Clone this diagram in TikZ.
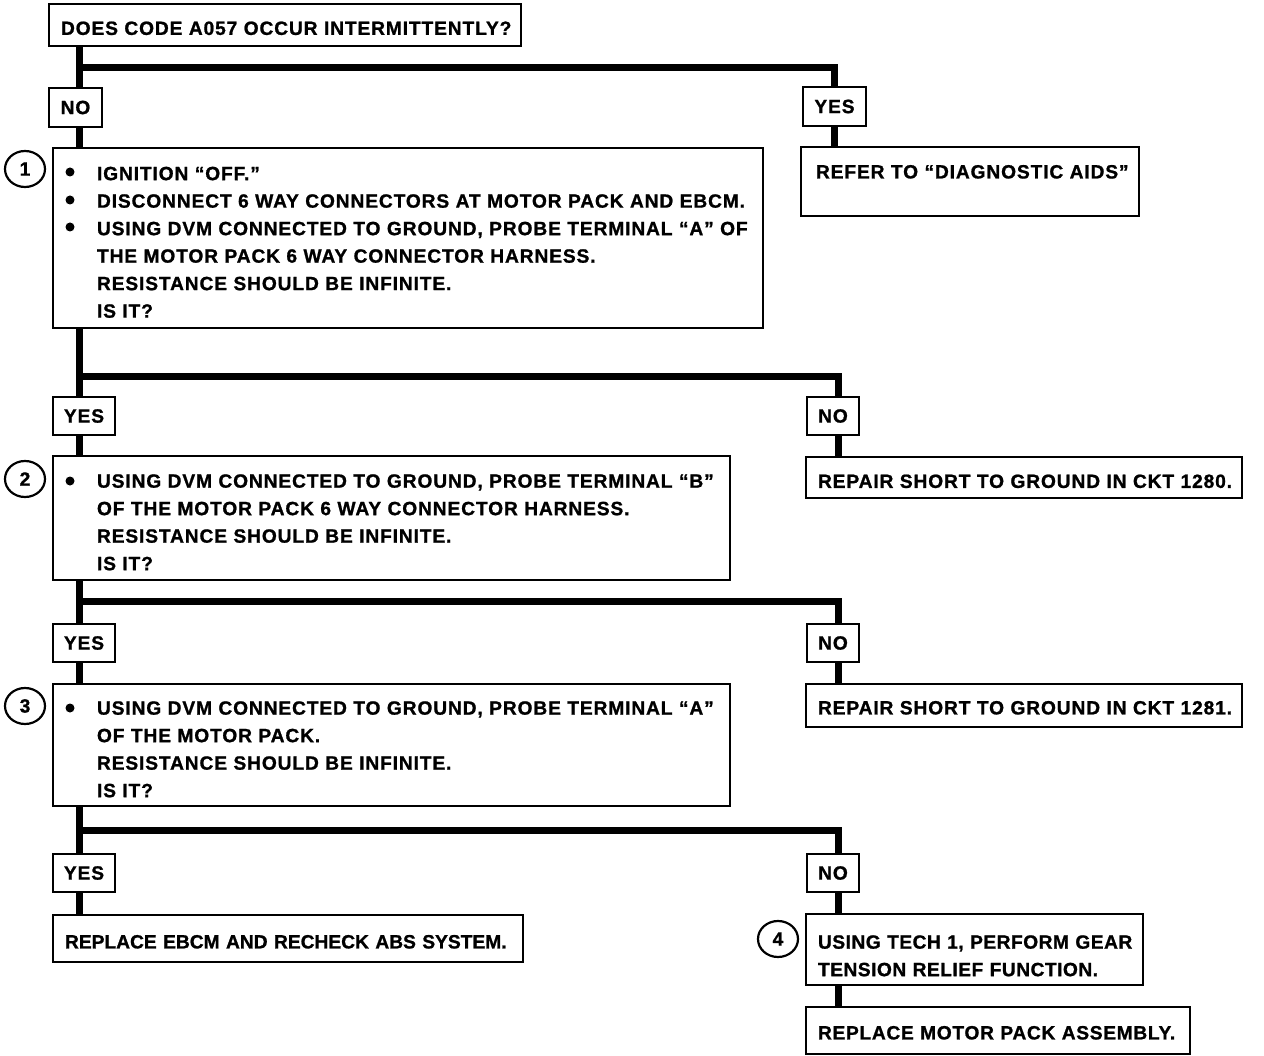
\documentclass[tikz,border=0pt]{standalone}
\usepackage{fontspec}
\setmainfont{Liberation Sans}[LetterSpace=4.5, BoldFeatures={FakeBold=1}]
\usetikzlibrary{shapes.geometric}
\newcommand\tline[1]{\mbox{\hspace*{31pt}#1}}
\newcommand\up[1]{\rule{0pt}{#1pt}}
\tikzset{
  box/.style={draw, line width=2.7pt, fill=white, outer sep=0pt, inner ysep=0pt,
    anchor=north west, align=left, font=\fontsize{19.2}{27.5}\selectfont\bfseries},
  tag/.style={draw, line width=2.7pt, fill=white, outer sep=0pt, inner sep=0pt,
    anchor=north west, minimum height=38pt, font=\fontsize{19.2}{20}\selectfont\bfseries},
  conn/.style={line width=7pt, line join=miter},
  num/.style={draw, ellipse, line width=2.2pt, minimum width=40pt, minimum height=36pt,
    inner sep=0pt, font=\fontsize{19.2}{20}\selectfont\bfseries},
  dot/.style={fill=black}
}
\begin{document}
\begin{tikzpicture}[x=1pt,y=-1pt]
\fill[white] (0,0) rectangle (1264,1056);
\useasboundingbox (0,0) rectangle (1264,1056);
\coordinate (tx) at (79,0);
\coordinate (rx) at (838,0);
\coordinate (j1) at (79,68);
\coordinate (j2) at (79,377);
\coordinate (j3) at (79,601);
\coordinate (j4) at (79,830);

% boxes
\node[box, minimum width=472pt, minimum height=42pt, inner xsep=12pt, text width=448pt] (top) at (49,4)
  {\mbox{\up{20}DOES CODE A057 OCCUR INTERMITTENTLY?}};
\node[tag, minimum width=53pt, minimum height=39pt] (no1) at (49,88) {NO};
\node[tag, minimum width=63pt, minimum height=39pt] (yes1) at (803,87) {YES};
\node[box, minimum width=338pt, minimum height=69pt, inner xsep=15pt, text width=308pt] (refer) at (801,147)
  {\mbox{REFER TO “DIAGNOSTIC AIDS”}\\[-8pt]\mbox{}};
\node[box, minimum width=710pt, minimum height=180pt, inner xsep=13pt, text width=684pt] (b1) at (53,148)
  {\tline{\up{22}IGNITION “OFF.”}\\
   \tline{DISCONNECT 6 WAY CONNECTORS AT MOTOR PACK AND EBCM.}\\
   \tline{USING DVM CONNECTED TO GROUND, PROBE TERMINAL “A” OF}\\
   \tline{THE MOTOR PACK 6 WAY CONNECTOR HARNESS.}\\
   \tline{RESISTANCE SHOULD BE INFINITE.}\\
   \tline{IS IT?}};
\node[tag, minimum width=62pt] (yes2) at (53,397) {YES};
\node[tag, minimum width=52pt] (no2) at (807,397) {NO};
\node[box, minimum width=436pt, minimum height=41pt, inner xsep=12pt, text width=412pt] (r1280) at (806,457)
  {\mbox{\up{21}REPAIR SHORT TO GROUND IN CKT 1280.}};
\node[box, minimum width=677pt, minimum height=124pt, inner xsep=13pt, text width=651pt] (b2) at (53,456)
  {\tline{\up{22}USING DVM CONNECTED TO GROUND, PROBE TERMINAL “B”}\\
   \tline{OF THE MOTOR PACK 6 WAY CONNECTOR HARNESS.}\\
   \tline{RESISTANCE SHOULD BE INFINITE.}\\
   \tline{IS IT?}};
\node[tag, minimum width=62pt] (yes3) at (53,624) {YES};
\node[tag, minimum width=52pt] (no3) at (807,624) {NO};
\node[box, minimum width=436pt, minimum height=43pt, inner xsep=12pt, text width=412pt] (r1281) at (806,684)
  {\mbox{\up{18}REPAIR SHORT TO GROUND IN CKT 1281.}};
\node[box, minimum width=677pt, minimum height=122pt, inner xsep=13pt, text width=651pt] (b3) at (53,684)
  {\tline{\up{22}USING DVM CONNECTED TO GROUND, PROBE TERMINAL “A”}\\
   \tline{OF THE MOTOR PACK.}\\
   \tline{RESISTANCE SHOULD BE INFINITE.}\\
   \tline{IS IT?}};
\node[tag, minimum width=62pt] (yes4) at (53,854) {YES};
\node[tag, minimum width=52pt] (no4) at (807,854) {NO};
\node[box, minimum width=470pt, minimum height=47pt, inner xsep=12pt, text width=446pt] (ebcm) at (53,915)
  {\addfontfeature{LetterSpace=0}\mbox{\up{20}REPLACE EBCM AND RECHECK ABS SYSTEM.}};
\node[box, minimum width=337pt, minimum height=71pt, inner xsep=12pt, text width=313pt] (b4) at (806,914)
  {\addfontfeature{LetterSpace=2.5}\mbox{\up{26}USING TECH 1, PERFORM GEAR}\\\mbox{TENSION RELIEF FUNCTION.}};
\node[box, minimum width=384pt, minimum height=47pt, inner xsep=12pt, text width=360pt] (b5) at (806,1007)
  {\addfontfeature{LetterSpace=3.5}\mbox{\up{18}REPLACE MOTOR PACK ASSEMBLY.}};

% step numbers
\node[num] (c1) at (25,169) {1};
\node[num] (c2) at (25,479) {2};
\node[num] (c3) at (25,706) {3};
\node[num] (c4) at (778,939) {4};

% bullets
\fill[dot] (70,172) circle (4.5pt);
\fill[dot] (70,200) circle (4.5pt);
\fill[dot] (70,227) circle (4.5pt);
\fill[dot] (70,481) circle (4.5pt);
\fill[dot] (70,708) circle (4.5pt);

% connectors
\draw[conn] (tx |- top.south) -- (tx |- no1.north);
\draw[conn] (j1) -| (yes1.north);
\draw[conn] (tx |- no1.south) -- (tx |- b1.north);
\draw[conn] (yes1.south) -- (yes1.south |- refer.north);

\draw[conn] (tx |- b1.south) -- (tx |- yes2.north);
\draw[conn] (j2) -| (rx |- no2.north);
\draw[conn] (tx |- yes2.south) -- (tx |- b2.north);
\draw[conn] (rx |- no2.south) -- (rx |- r1280.north);

\draw[conn] (tx |- b2.south) -- (tx |- yes3.north);
\draw[conn] (j3) -| (rx |- no3.north);
\draw[conn] (tx |- yes3.south) -- (tx |- b3.north);
\draw[conn] (rx |- no3.south) -- (rx |- r1281.north);

\draw[conn] (tx |- b3.south) -- (tx |- yes4.north);
\draw[conn] (j4) -| (rx |- no4.north);
\draw[conn] (tx |- yes4.south) -- (tx |- ebcm.north);
\draw[conn] (rx |- no4.south) -- (rx |- b4.north);
\draw[conn] (rx |- b4.south) -- (rx |- b5.north);
\end{tikzpicture}
\end{document}
